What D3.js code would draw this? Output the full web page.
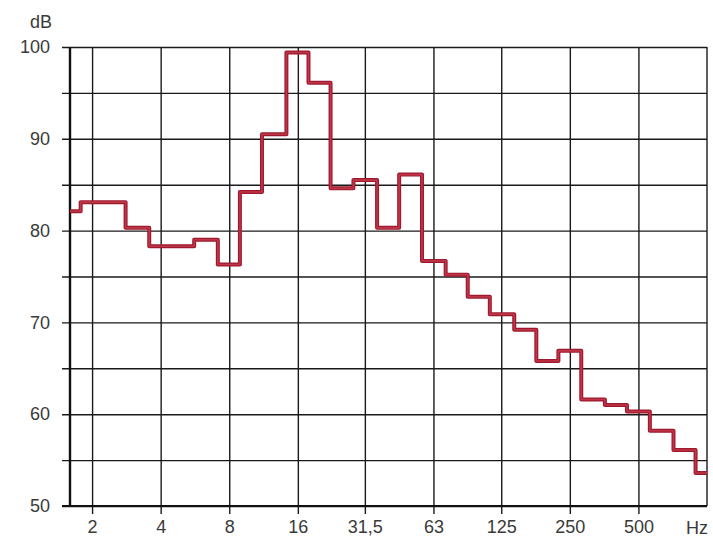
<!DOCTYPE html>
<html>
<head>
<meta charset="utf-8">
<script src="https://cdn.jsdelivr.net/npm/d3@7"></script>
<style>
  html, body { margin: 0; padding: 0; background: #fff; }
  svg { display: block; }
  text { font-family: "Liberation Sans", Arial, Helvetica, sans-serif; fill: #3a3a3a; }
</style>
</head>
<body>
<svg id="chart" width="713" height="537"></svg>
<script>
// Third-octave band centre frequencies (Hz)
const bands = [1.6, 2, 2.5, 3.15, 4, 5, 6.3, 8, 10, 12.5, 16, 20, 25, 31.5, 40, 50, 63,
               80, 100, 125, 160, 200, 250, 315, 400, 500, 630, 800, 1000];
// Sound level per band (dB)
const levels = [82.1, 83.1, 83.1, 80.3, 78.3, 78.3, 79.0, 76.3, 84.2, 90.5, 99.4, 96.1, 84.6,
                85.5, 80.3, 86.1, 76.7, 75.2, 72.8, 70.9, 69.2, 65.8, 66.9, 61.6, 61.0, 60.3,
                58.2, 56.1, 53.6];
// Axis ticks
const xTicks = [2, 4, 8, 16, 31.5, 63, 125, 250, 500];
const xTickLabels = ["2", "4", "8", "16", "31,5", "63", "125", "250", "500"];
const yTicks = [50, 55, 60, 65, 70, 75, 80, 85, 90, 95, 100];
const yLabelled = [50, 60, 70, 80, 90, 100];

const svg = d3.select("#chart");
const L = 70, R = 707, T = 47, B = 506;

const x = d3.scaleLog().domain([1.6, 1000]).range([L, R]);
const y = d3.scaleLinear().domain([50, 100]).range([B, T]);

// Horizontal grid + y ticks (extend 8px left of axis)
const gy = svg.append("g")
  .attr("transform", `translate(${R},0)`)
  .call(d3.axisLeft(y).tickValues(yTicks).tickSize(R - L + 8).tickSizeOuter(0).tickPadding(12)
    .tickFormat(d => yLabelled.includes(d) ? String(d) : ""));
gy.select(".domain").remove();
gy.selectAll(".tick line").attr("stroke", "#1a1a1a").attr("stroke-width", 1.4);
gy.selectAll(".tick text").style("font-size", "18px").attr("fill", "#3a3a3a");

// Vertical grid + x ticks (extend 8px below axis)
const gx = svg.append("g")
  .attr("transform", `translate(0,${T})`)
  .call(d3.axisBottom(x).tickValues(xTicks).tickSize(B - T + 8).tickSizeOuter(0).tickPadding(6)
    .tickFormat((d, i) => xTickLabels[i]));
gx.select(".domain").remove();
gx.selectAll(".tick line").attr("stroke", "#1a1a1a").attr("stroke-width", 1.4);
gx.selectAll(".tick text").style("font-size", "18px").attr("fill", "#3a3a3a");

// Frame
svg.append("line").attr("x1", L).attr("x2", L).attr("y1", T).attr("y2", B + 1)
  .attr("stroke", "#111").attr("stroke-width", 2.4);
svg.append("line").attr("x1", R).attr("x2", R).attr("y1", T).attr("y2", B)
  .attr("stroke", "#1a1a1a").attr("stroke-width", 1.4);
svg.append("line").attr("x1", L - 8).attr("x2", R).attr("y1", B).attr("y2", B)
  .attr("stroke", "#111").attr("stroke-width", 2);

// Units
svg.append("text").attr("x", 52).attr("y", 28).attr("text-anchor", "end")
  .style("font-size", "18px").text("dB");
svg.append("text").attr("x", 697).attr("y", 534).attr("text-anchor", "middle")
  .style("font-size", "18px").text("Hz");

// Step line: one horizontal segment per band, edges at f·2^(±1/6), clipped to the domain
const k = Math.pow(2, 1 / 6);
const [fmin, fmax] = x.domain();
const pts = bands.map((f, i) => [Math.max(fmin, f / k), levels[i]]);
pts.push([Math.min(fmax, bands[bands.length - 1] * k), levels[levels.length - 1]]);
const clipPts = pts.map(p => [Math.min(p[0], fmax), p[1]]);

const line = d3.line()
  .x(d => x(d[0]))
  .y(d => y(d[1]))
  .curve(d3.curveStepAfter);

svg.append("path").datum(clipPts).attr("d", line)
  .attr("fill", "none").attr("stroke", "#9c1a2f").attr("stroke-width", 4)
  .attr("stroke-linejoin", "round");
svg.append("path").datum(clipPts).attr("d", line)
  .attr("fill", "none").attr("stroke", "#c23448").attr("stroke-width", 1.6)
  .attr("stroke-linejoin", "round");
</script>
</body>
</html>
